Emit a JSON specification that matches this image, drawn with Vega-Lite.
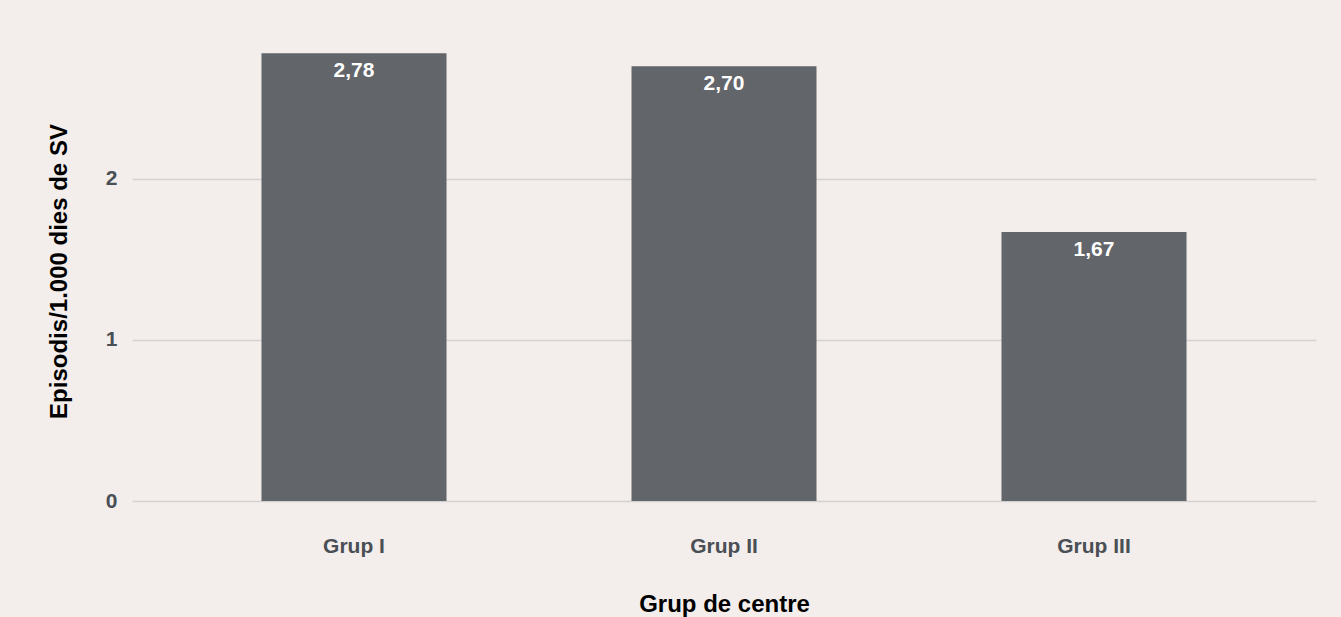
{
  "$schema": "https://vega.github.io/schema/vega-lite/v6.json",
  "width": 1184,
  "height": 475,
  "autosize": {"type": "none"},
  "padding": {"left": 132, "top": 26, "right": 25, "bottom": 116},
  "background": "#f3eeeb",
  "config": {
    "view": {"stroke": null},
    "font": "Liberation Sans",
    "locale": {"number": {"decimal": ",", "thousands": ".", "grouping": [3], "currency": ["", " €"]}}
  },
  "data": {"values": [
    {"grup": "Grup I", "valor": 2.78},
    {"grup": "Grup II", "valor": 2.70},
    {"grup": "Grup III", "valor": 1.67}
  ]},
  "encoding": {
    "x": {
      "field": "grup", "type": "nominal", "sort": null,
      "scale": {"paddingInner": 0.5, "paddingOuter": 0.35},
      "axis": {
        "title": "Grup de centre", "labelAngle": 0, "domain": false, "ticks": false,
        "labelFont": "Liberation Sans", "labelFontSize": 21, "labelFontWeight": "bold", "labelColor": "#4a4f55",
        "labelPadding": 34,
        "titleFont": "Liberation Sans", "titleFontSize": 24, "titleFontWeight": "bold", "titleColor": "#000000",
        "titleY": 91, "titleBaseline": "top"
      }
    },
    "y": {
      "field": "valor", "type": "quantitative",
      "scale": {"domain": [0, 2.95], "nice": false},
      "axis": {
        "title": "Episodis/1.000 dies de SV", "values": [0, 1, 2], "format": "d",
        "domain": false, "ticks": false, "gridColor": "#d4d2d0", "gridWidth": 1.5,
        "labelFont": "Liberation Sans", "labelFontSize": 21, "labelFontWeight": "bold", "labelColor": "#4a4f55",
        "labelPadding": 15,
        "titleFont": "Liberation Sans", "titleFontSize": 24, "titleFontWeight": "bold", "titleColor": "#000000",
        "titleX": -66, "titleY": 245, "titleBaseline": "alphabetic", "titleAngle": -90, "titleAlign": "center"
      }
    }
  },
  "layer": [
    {"mark": {"type": "bar", "color": "#62656a"}},
    {
      "mark": {"type": "text", "baseline": "top", "dy": 7, "color": "#ffffff", "fontSize": 21, "fontWeight": "bold", "font": "Liberation Sans"},
      "encoding": {"text": {"field": "valor", "type": "quantitative", "format": ".2f"}}
    }
  ]
}
